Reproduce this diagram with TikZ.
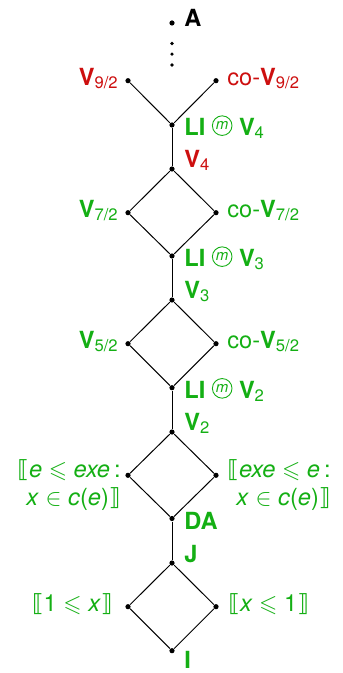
\documentclass[tikz,border=0pt]{standalone}
\usepackage{amssymb}
\usepackage{fontspec}
\setmainfont{TeX Gyre Heros}
\newfontfamily\djv{DejaVu Sans}
\definecolor{myg}{RGB}{20,175,20}
\definecolor{myr}{RGB}{205,15,15}
\newcommand\sbs[1]{\raisebox{-0.13em}{\fontsize{8.3}{8.5}\selectfont #1}}
\newcommand\Vs[1]{\textbf{V}\sbs{#1}}
\newcommand\mcirc{\tikz[baseline={([yshift=0.2pt]mc.south)}]\node[draw,circle,inner sep=0pt,minimum size=9.8pt,line width=0.45pt](mc){\fontsize{7.5}{7.5}\selectfont\itshape m};}
\newcommand\lbr{{\djv ⟦}}
\newcommand\rbr{{\djv ⟧}}
\tikzset{
  dot/.style={circle,fill=black,inner sep=0pt,minimum size=2.6pt},
  sdot/.style={circle,fill=black,inner sep=0pt,minimum size=1.8pt},
  lab/.style={inner sep=0pt,font=\fontsize{11.8}{13}\selectfont},
  gr/.style={lab,color=myg},
  rd/.style={lab,color=myr},
  two/.style={gr,align=right,font=\fontsize{11.8}{14.2}\selectfont},
  edge/.style={line width=0.5pt}
}
\begin{document}
\begin{tikzpicture}[x=0.5pt,y=-0.5pt]
\useasboundingbox (0,0) rectangle (342,673);
% nodes
\node[dot] (A) at (172,23) {};
\node[sdot] (d1) at (172,43.5) {};
\node[sdot] (d2) at (172,54.2) {};
\node[sdot] (d3) at (172,65) {};
\node[dot] (v92) at (128,80.7) {};
\node[dot] (cv92) at (216,80.7) {};
\node[dot] (li4) at (172,125) {};
\node[dot] (v4) at (172,169) {};
\node[dot] (v72) at (128,212.7) {};
\node[dot] (cv72) at (216,212.7) {};
\node[dot] (li3) at (172,256) {};
\node[dot] (v3) at (172,300) {};
\node[dot] (v52) at (128,343.7) {};
\node[dot] (cv52) at (216,343.7) {};
\node[dot] (li2) at (172,387.7) {};
\node[dot] (v2) at (172,432) {};
\node[dot] (ql) at (128,475.3) {};
\node[dot] (qr) at (216,475.3) {};
\node[dot] (da) at (172,518.5) {};
\node[dot] (j) at (172,563) {};
\node[dot] (pl) at (128,606.7) {};
\node[dot] (pr) at (216,606.7) {};
\node[dot] (i) at (172,650.7) {};
% edges
\draw[edge] (v92) -- (li4) -- (cv92);
\draw[edge] (li4) -- (v4);
\draw[edge] (v4) -- (v72) -- (li3) -- (cv72) -- (v4);
\draw[edge] (li3) -- (v3);
\draw[edge] (v3) -- (v52) -- (li2) -- (cv52) -- (v3);
\draw[edge] (li2) -- (v2);
\draw[edge] (v2) -- (ql) -- (da) -- (qr) -- (v2);
\draw[edge] (da) -- (j);
\draw[edge] (j) -- (pl) -- (i) -- (pr) -- (j);
% labels
\node[lab,font=\fontsize{11.8}{13}\selectfont\bfseries,anchor=base west] (tA) at ([shift={(12,4)}]A) {A};
\node[rd,anchor=base east] (tv92) at ([shift={(-10,4.5)}]v92) {\Vs{9/2}};
\node[rd,anchor=base west] (tcv92) at ([shift={(11,4.5)}]cv92) {co-\Vs{9/2}};
\node[gr,anchor=base west] (tli4) at ([shift={(12,10.5)}]li4) {\textbf{LI} \mcirc{} \Vs{4}};
\node[rd,anchor=base west] (tv4) at ([shift={(12,-1.5)}]v4) {\Vs{4}};
\node[gr,anchor=base east] (tv72) at ([shift={(-10,4.5)}]v72) {\Vs{7/2}};
\node[gr,anchor=base west] (tcv72) at ([shift={(11,4.5)}]cv72) {co-\Vs{7/2}};
\node[gr,anchor=base west] (tli3) at ([shift={(12,10.5)}]li3) {\textbf{LI} \mcirc{} \Vs{3}};
\node[gr,anchor=base west] (tv3) at ([shift={(12,-1.5)}]v3) {\Vs{3}};
\node[gr,anchor=base east] (tv52) at ([shift={(-10,4.5)}]v52) {\Vs{5/2}};
\node[gr,anchor=base west] (tcv52) at ([shift={(11,4.5)}]cv52) {co-\Vs{5/2}};
\node[gr,anchor=base west] (tli2) at ([shift={(12,10.5)}]li2) {\textbf{LI} \mcirc{} \Vs{2}};
\node[gr,anchor=base west] (tv2) at ([shift={(12,-1.5)}]v2) {\Vs{2}};
\node[two,anchor=east] (tql) at ([shift={(-7,10)}]ql) {\lbr\textit{e} $\leqslant$ \textit{exe}\,:\hspace{4pt}\\ \textit{x} $\in$ \textit{c}(\textit{e})\rbr};
\node[two,anchor=west] (tqr) at ([shift={(11,10)}]qr) {\lbr\textit{exe} $\leqslant$ \textit{e}\,:\hspace{3pt}\\ \textit{x} $\in$ \textit{c}(\textit{e})\rbr};
\node[gr,font=\fontsize{11.8}{13}\selectfont\bfseries,anchor=base west] (tda) at ([shift={(12,10.5)}]da) {DA};
\node[gr,font=\fontsize{11.8}{13}\selectfont\bfseries,anchor=base west] (tj) at ([shift={(12,-0.5)}]j) {J};
\node[gr,anchor=base east] (tpl) at ([shift={(-15,4.5)}]pl) {\lbr 1 $\leqslant$ \textit{x}\rbr};
\node[gr,anchor=base west] (tpr) at ([shift={(12,4.5)}]pr) {\lbr\textit{x} $\leqslant$ 1\rbr};
\node[gr,font=\fontsize{11.8}{13}\selectfont\bfseries,anchor=base west] (ti) at ([shift={(12,18)}]i) {I};
\end{tikzpicture}
\end{document}
